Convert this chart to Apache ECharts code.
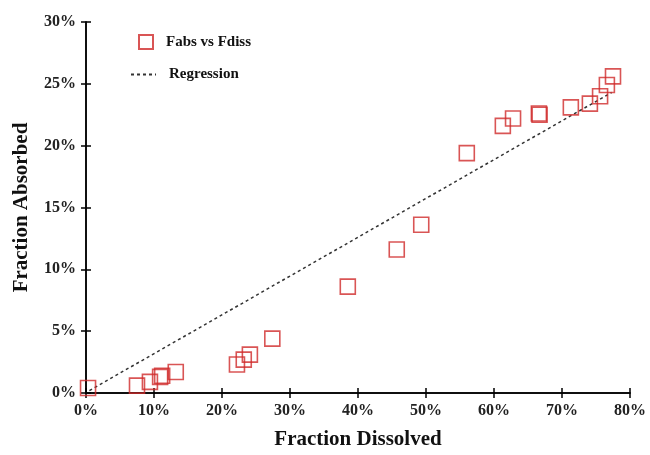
<!DOCTYPE html>
<html lang="en">
  <head>
    <meta charset="UTF-8" />
    <title>Fabs vs Fdiss</title>
    <script src="https://cdn.jsdelivr.net/npm/echarts@6/dist/echarts.min.js"></script>
    <style>
      html, body { margin: 0; padding: 0; background: #fff; }
      #main { width: 650px; height: 455px; }
    </style>
  </head>
  <body>
    <div id="main"></div>
    <script>
      // fraction dissolved (%) / fraction absorbed (%)
      var fdiss = [0.3, 7.5, 9.4, 10.9, 11.2, 13.2, 22.2, 23.2, 24.1, 27.4, 38.5, 45.7, 49.3, 56.0, 61.3, 62.8, 66.6, 66.7, 71.3, 74.1, 75.6, 76.6, 77.5];
      var fabs = [0.4, 0.6, 0.9, 1.3, 1.4, 1.7, 2.3, 2.7, 3.1, 4.4, 8.6, 11.6, 13.6, 19.4, 21.6, 22.2, 22.6, 22.5, 23.1, 23.4, 24.0, 24.9, 25.6];
      // regression line end points
      var regX = [0.5, 77.3];
      var regY = [0.2, 24.3];

      var font = "'Liberation Serif', 'Times New Roman', serif";
      var points = fdiss.map(function (x, i) { return [x, fabs[i]]; });
      var regLine = regX.map(function (x, i) { return [x, regY[i]]; });

      var myChart = echarts.init(document.getElementById("main"));

      var axisCommon = {
        axisLine: { lineStyle: { color: "#000", width: 1.5 } },
        splitLine: { show: false }
      };
      var legendText = { fontFamily: font, fontWeight: "bold", fontSize: 15, color: "#111", padding: [0, 0, 0, 8] };

      var option = {
        animation: false,
        grid: { left: 86, right: 20, top: 22, bottom: 61 },
        legend: [
          {
            data: ["Fabs vs Fdiss"],
            left: 133, top: 29,
            itemWidth: 14, itemHeight: 14,
            textStyle: legendText
          },
          {
            data: ["Regression"],
            left: 125, top: 62,
            itemWidth: 25, itemHeight: 14,
            itemStyle: { color: "rgba(0,0,0,0)", borderWidth: 0 },
            textStyle: legendText
          }
        ],
        xAxis: [
          Object.assign({
            type: "value", min: 0, max: 80, interval: 10,
            name: "Fraction Dissolved", nameLocation: "middle", nameGap: 36,
            nameTextStyle: { fontFamily: font, fontWeight: "bold", fontSize: 21, color: "#111" },
            axisTick: { length: 5, lineStyle: { color: "#000", width: 1.5 } },
            axisLabel: { formatter: "{value}%", fontFamily: font, fontWeight: "bold", fontSize: 16, color: "#222", margin: 10 }
          }, axisCommon),
          Object.assign({
            type: "value", min: 0, max: 80, interval: 10, position: "bottom",
            axisTick: { inside: true, length: 5, lineStyle: { color: "#000", width: 1.5 } },
            axisLabel: { show: false }
          }, axisCommon)
        ],
        yAxis: [
          Object.assign({
            type: "value", min: 0, max: 30, interval: 5,
            name: "Fraction Absorbed", nameLocation: "middle", nameGap: 54,
            nameTextStyle: { fontFamily: font, fontWeight: "bold", fontSize: 21, color: "#111" },
            axisTick: { length: 5, lineStyle: { color: "#000", width: 1.5 } },
            axisLabel: { formatter: "{value}%", fontFamily: font, fontWeight: "bold", fontSize: 16, color: "#222", margin: 10 }
          }, axisCommon),
          Object.assign({
            type: "value", min: 0, max: 30, interval: 5, position: "left",
            axisTick: { inside: true, length: 5, lineStyle: { color: "#000", width: 1.5 } },
            axisLabel: { show: false }
          }, axisCommon)
        ],
        series: [
          {
            name: "Fabs vs Fdiss",
            type: "scatter",
            symbol: "rect",
            symbolSize: 15,
            itemStyle: { color: "rgba(255,255,255,0)", borderColor: "#d02a2a", borderWidth: 1.6 },
            data: points
          },
          {
            name: "Regression",
            type: "line",
            symbol: "none",
            itemStyle: { color: "#333" },
            lineStyle: { color: "#333", width: 1.5, type: [3, 3] },
            data: regLine,
            z: 1
          }
        ]
      };

      myChart.setOption(option);
    </script>
  </body>
</html>
